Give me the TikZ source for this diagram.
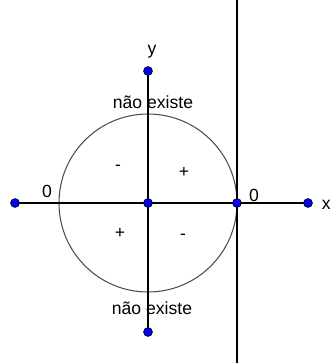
\documentclass[tikz,border=0pt]{standalone}
\usepackage{fontspec}
\setmainfont{Liberation Sans}
\usepackage{tkz-euclide}
\usepackage{xcolor}

\begin{document}
\begin{tikzpicture}[scale = 1.0]
            \useasboundingbox (-2.96,-3.20) rectangle (3.66,4.06);
            \tkzDefPoints{0/0/O, 1.78/0/A, -2.66/0/L, 3.2/0/R, 0/2.64/T, 0/-2.58/B}
            \tkzDefPoints{1.78/4.06/U, 1.78/-3.2/D}
            \tkzDrawCircle[black!70, line width=0.6pt](O,A)
            \tkzDrawSegments[black, semithick](L,R T,B U,D)
            \tkzDrawPoints[color=black, fill=blue, size=5](O,A,L,R,T,B)
            \node (ylab) at (0.08,3.02) {y};
            \node[anchor=west, inner sep=0pt] (xlab) at (3.47,-0.04) {x};
            \node (zleft) at (-2.02,0.24) {0};
            \node (zright) at (2.12,0.16) {0};
            \node (topnx) at (0.1,2.02) {não existe};
            \node (botnx) at (0.08,-2.1) {não existe};
            \node (sgnA) at (-0.6,0.7) {-};
            \node (sgnB) at (0.72,0.62) {+};
            \node (sgnC) at (-0.56,-0.6) {+};
            \node (sgnD) at (0.7,-0.68) {-};
        \end{tikzpicture}
\end{document}
